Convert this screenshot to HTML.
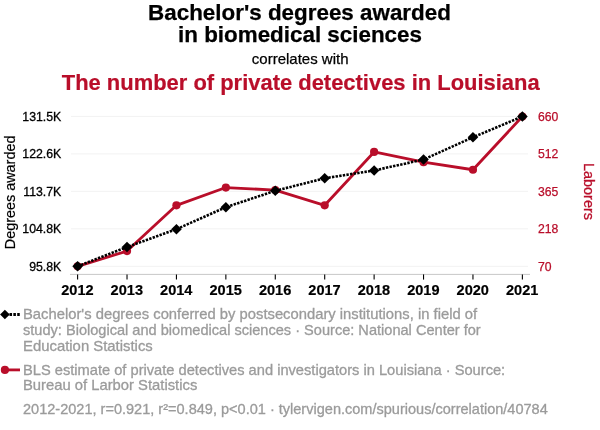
<!DOCTYPE html>
<html><head><meta charset="utf-8">
<style>
html,body{margin:0;padding:0;background:#fff;}
svg{display:block;font-family:"Liberation Sans",sans-serif;}
</style></head>
<body>
<svg width="600" height="430" viewBox="0 0 600 430">
<rect width="600" height="430" fill="#fff"/>
<g font-weight="bold" font-size="22.4" text-anchor="middle" fill="#000" stroke="#000" stroke-width="0.25">
<text x="299.5" y="20">Bachelor's degrees awarded</text>
<text x="300" y="42">in biomedical sciences</text>
</g>
<text x="300.2" y="63.8" font-size="15" text-anchor="middle" fill="#000" stroke="#000" stroke-width="0.25">correlates with</text>
<text x="300.7" y="90" font-size="21.95" font-weight="bold" text-anchor="middle" fill="#b90e2a" stroke="#b90e2a" stroke-width="0.2">The number of private detectives in Louisiana</text>
<g stroke="#f2f2f2" stroke-width="1">
<line x1="71" x2="528" y1="116.40" y2="116.40"/>
<line x1="71" x2="528" y1="153.88" y2="153.88"/>
<line x1="71" x2="528" y1="191.35" y2="191.35"/>
<line x1="71" x2="528" y1="228.83" y2="228.83"/>
<line x1="71" x2="528" y1="266.30" y2="266.30"/>
</g>
<line x1="70" x2="530" y1="274.4" y2="274.4" stroke="#c8c8c8" stroke-width="1"/>
<g stroke="#000" stroke-width="1.1">
<line x1="77.60" x2="77.60" y1="274.4" y2="279.6"/>
<line x1="127.02" x2="127.02" y1="274.4" y2="279.6"/>
<line x1="176.44" x2="176.44" y1="274.4" y2="279.6"/>
<line x1="225.86" x2="225.86" y1="274.4" y2="279.6"/>
<line x1="275.28" x2="275.28" y1="274.4" y2="279.6"/>
<line x1="324.70" x2="324.70" y1="274.4" y2="279.6"/>
<line x1="374.12" x2="374.12" y1="274.4" y2="279.6"/>
<line x1="423.54" x2="423.54" y1="274.4" y2="279.6"/>
<line x1="472.96" x2="472.96" y1="274.4" y2="279.6"/>
<line x1="522.38" x2="522.38" y1="274.4" y2="279.6"/>
</g>
<g font-size="15.5" font-weight="bold" text-anchor="middle" fill="#000" stroke="#000" stroke-width="0.2">
<text x="77.40" y="294.8" textLength="32.4" lengthAdjust="spacingAndGlyphs">2012</text>
<text x="126.82" y="294.8" textLength="32.4" lengthAdjust="spacingAndGlyphs">2013</text>
<text x="176.24" y="294.8" textLength="32.4" lengthAdjust="spacingAndGlyphs">2014</text>
<text x="225.66" y="294.8" textLength="32.4" lengthAdjust="spacingAndGlyphs">2015</text>
<text x="275.08" y="294.8" textLength="32.4" lengthAdjust="spacingAndGlyphs">2016</text>
<text x="324.50" y="294.8" textLength="32.4" lengthAdjust="spacingAndGlyphs">2017</text>
<text x="373.92" y="294.8" textLength="32.4" lengthAdjust="spacingAndGlyphs">2018</text>
<text x="423.34" y="294.8" textLength="32.4" lengthAdjust="spacingAndGlyphs">2019</text>
<text x="472.76" y="294.8" textLength="32.4" lengthAdjust="spacingAndGlyphs">2020</text>
<text x="522.18" y="294.8" textLength="32.4" lengthAdjust="spacingAndGlyphs">2021</text>
</g>
<g font-size="12.3" text-anchor="end" fill="#000" stroke="#000" stroke-width="0.3">
<text x="61.3" y="120.90">131.5K</text>
<text x="61.3" y="158.38">122.6K</text>
<text x="61.3" y="195.85">113.7K</text>
<text x="61.3" y="233.33">104.8K</text>
<text x="61.3" y="270.80">95.8K</text>
</g>
<g font-size="12.2" text-anchor="start" fill="#b90e2a" stroke="#b90e2a" stroke-width="0.25">
<text x="537.9" y="121.00">660</text>
<text x="537.9" y="158.47">512</text>
<text x="537.9" y="195.95">365</text>
<text x="537.9" y="233.43">218</text>
<text x="537.9" y="270.90">70</text>
</g>
<text transform="translate(15.05,192.4) rotate(-90)" font-size="15.2" text-anchor="middle" fill="#000" stroke="#000" stroke-width="0.2" textLength="113.6" lengthAdjust="spacingAndGlyphs">Degrees awarded</text>
<text transform="translate(584,191.5) rotate(90)" font-size="15.5" text-anchor="middle" fill="#b90e2a" stroke="#b90e2a" stroke-width="0.3" textLength="57" lengthAdjust="spacingAndGlyphs">Laborers</text>
<polyline fill="none" stroke="#b90e2a" stroke-width="2.8" stroke-linejoin="round" points="77.60,266.30 127.02,251.06 176.44,205.32 225.86,187.54 275.28,190.08 324.70,205.32 374.12,151.97 423.54,162.13 472.96,169.75 522.38,116.50"/>
<g fill="#b90e2a">
<circle cx="77.60" cy="266.30" r="4.1"/>
<circle cx="127.02" cy="251.06" r="4.1"/>
<circle cx="176.44" cy="205.32" r="4.1"/>
<circle cx="225.86" cy="187.54" r="4.1"/>
<circle cx="275.28" cy="190.08" r="4.1"/>
<circle cx="324.70" cy="205.32" r="4.1"/>
<circle cx="374.12" cy="151.97" r="4.1"/>
<circle cx="423.54" cy="162.13" r="4.1"/>
<circle cx="472.96" cy="169.75" r="4.1"/>
<circle cx="522.38" cy="116.50" r="4.1"/>
</g>
<polyline fill="none" stroke="#000" stroke-width="2.6" stroke-dasharray="2.4,1.25" points="77.60,266.30 127.02,247.00 176.44,229.20 225.86,207.20 275.28,190.80 324.70,178.30 374.12,170.45 423.54,159.55 472.96,137.30 522.38,116.50"/>
<g fill="#000">
<path d="M0,-5.3 L5.3,0 L0,5.3 L-5.3,0Z" transform="translate(77.60,266.30)"/>
<path d="M0,-5.3 L5.3,0 L0,5.3 L-5.3,0Z" transform="translate(127.02,247.00)"/>
<path d="M0,-5.3 L5.3,0 L0,5.3 L-5.3,0Z" transform="translate(176.44,229.20)"/>
<path d="M0,-5.3 L5.3,0 L0,5.3 L-5.3,0Z" transform="translate(225.86,207.20)"/>
<path d="M0,-5.3 L5.3,0 L0,5.3 L-5.3,0Z" transform="translate(275.28,190.80)"/>
<path d="M0,-5.3 L5.3,0 L0,5.3 L-5.3,0Z" transform="translate(324.70,178.30)"/>
<path d="M0,-5.3 L5.3,0 L0,5.3 L-5.3,0Z" transform="translate(374.12,170.45)"/>
<path d="M0,-5.3 L5.3,0 L0,5.3 L-5.3,0Z" transform="translate(423.54,159.55)"/>
<path d="M0,-5.3 L5.3,0 L0,5.3 L-5.3,0Z" transform="translate(472.96,137.30)"/>
<path d="M0,-5.3 L5.3,0 L0,5.3 L-5.3,0Z" transform="translate(522.38,116.50)"/>
</g>
<line x1="5.65" x2="20" y1="314.5" y2="314.5" stroke="#000" stroke-width="2.8" stroke-dasharray="2.55,1.3"/>
<path d="M0,-4.8 L4.8,0 L0,4.8 L-4.8,0Z" transform="translate(4.9,314.5)" fill="#000"/>
<g font-size="14.5" fill="#9b9b9b" stroke="#9b9b9b" stroke-width="0.3">
<text x="23" y="318.8" textLength="454.1" lengthAdjust="spacingAndGlyphs">Bachelor's degrees conferred by postsecondary institutions, in field of</text>
<text x="23" y="334.8" textLength="457.7" lengthAdjust="spacingAndGlyphs">study: Biological and biomedical sciences · Source: National Center for</text>
<text x="23" y="350.6" textLength="129.8" lengthAdjust="spacingAndGlyphs">Education Statistics</text>
<text x="23" y="374.6" textLength="482.2" lengthAdjust="spacingAndGlyphs">BLS estimate of private detectives and investigators in Louisiana · Source:</text>
<text x="23" y="390.3" textLength="174.3" lengthAdjust="spacingAndGlyphs">Bureau of Larbor Statistics</text>
<text x="23" y="413.9" textLength="524.8" lengthAdjust="spacingAndGlyphs">2012-2021, r=0.921, r²=0.849, p&lt;0.01 · tylervigen.com/spurious/correlation/40784</text>
</g>
<line x1="5" x2="20" y1="369.9" y2="369.9" stroke="#b90e2a" stroke-width="2.8"/>
<circle cx="4.9" cy="369.9" r="4.1" fill="#b90e2a"/>
</svg>
</body></html>
